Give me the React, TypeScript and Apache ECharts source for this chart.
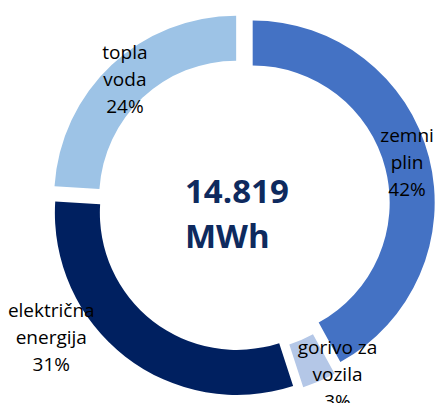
import React, { useEffect, useRef } from "react";
import * as echarts from "echarts";

const categories = ["zemni plin", "gorivo za vozila", "električna energija", "topla voda"];
const shares = [42, 3, 31, 24];
const colors = ["#4472C4", "#B4C7E7", "#002060", "#9DC3E6"];
const centerLines = ["14.819", "MWh"];
// label nudges (px) for labels that Excel moved off the ring
const labelNudges: [number, number][] = [[-3, 0], [26, 11], [-86, -4], [0, 0]];

export default function App() {
  const ref = useRef<HTMLDivElement>(null);
  useEffect(() => {
    if (!ref.current) return;
    const chart = echarts.init(ref.current, undefined, { renderer: "svg" });
    chart.setOption({
      animation: false,
      backgroundColor: "#ffffff",
      graphic: [
        {
          type: "text",
          left: 185,
          top: 168,
          silent: true,
          style: {
            text: centerLines.join("\n"),
            font: "bold 33px 'Open Sans'",
            fill: "#0E2A5E",
            lineHeight: 45,
            textAlign: "left",
          },
        },
      ],
      series: [
        {
          type: "pie",
          silent: true,
          center: [243, 205],
          radius: [137, 182],
          startAngle: 90,
          clockwise: true,
          selectedMode: "multiple",
          selectedOffset: 10,
          avoidLabelOverlap: false,
          label: {
            show: true,
            position: "inside",
            color: "#000000",
            fontFamily: "'Open Sans'",
            fontSize: 19,
            lineHeight: 27,
            align: "center",
            formatter: (p: any) =>
              `${String(p.name).replace(/ (?=\S+$)/, "\n")}\n${Math.round(p.percent)}%`,
          },
          labelLine: { show: false },
          labelLayout: (p: any) => ({
            dx: labelNudges[p.dataIndex][0],
            dy: labelNudges[p.dataIndex][1],
          }),
          emphasis: { disabled: true },
          data: categories.map((name, i) => ({
            name,
            value: shares[i],
            selected: true,
            itemStyle: { color: colors[i], borderWidth: 0 },
            select: { itemStyle: { color: colors[i], borderWidth: 0 } },
          })),
        },
      ],
    });
    return () => chart.dispose();
  }, []);
  return (
    <div
      ref={ref}
      style={{ position: "fixed", left: 0, top: 0, width: 435, height: 403 }}
    />
  );
}
